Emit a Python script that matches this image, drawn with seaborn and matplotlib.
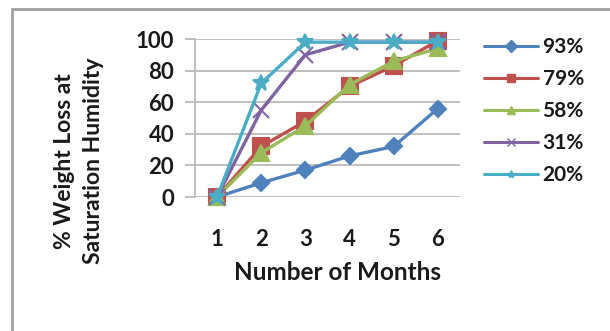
import matplotlib
matplotlib.use("Agg")
import matplotlib.pyplot as plt
from matplotlib.patches import Rectangle
from matplotlib.lines import Line2D
import pandas as pd
import seaborn as sns

months = [1, 2, 3, 4, 5, 6]
series_names = ["93%", "79%", "58%", "31%", "20%"]
loss_93 = [0, 9, 17, 26, 32, 56]
loss_79 = [0, 32, 48, 70, 83, 99]
loss_58 = [0, 28, 45, 71, 86, 94]
loss_31 = [0, 55, 90, 98, 98, 98]
loss_20 = [0, 72, 98, 98, 98, 98]
y_ticks = [0, 20, 40, 60, 80, 100]

colors = ["#4F81BD", "#C0504D", "#9BBB59", "#8064A2", "#4BACC6"]
markers = ["D", "s", "^", "x", "*"]
msizes = [8, 11, 11, 11, 12]

rows = []
for name, vals in zip(series_names, [loss_93, loss_79, loss_58, loss_31, loss_20]):
    for m, v in zip(months, vals):
        rows.append({"month": m, "loss": v, "rh": name})
df = pd.DataFrame(rows)

sns.set_theme(style="white")
plt.rcParams["font.family"] = ["Lato", "DejaVu Sans"]
plt.rcParams["font.weight"] = "bold"
TXT = "#1a1a1a"

fig = plt.figure(figsize=(6.1, 3.31), dpi=100)
ax = fig.add_axes([195 / 610, 1 - 197 / 331, (460 - 195) / 610, (197 - 39) / 331])

for name, c, mk, ms in zip(series_names, colors, markers, msizes):
    sub = df[df["rh"] == name]
    sns.lineplot(data=sub, x="month", y="loss", ax=ax, color=c, marker=mk,
                 markersize=ms, markeredgecolor=c, markeredgewidth=1.5,
                 linewidth=2.4, legend=False, clip_on=False, zorder=3)

ax.set_xlim(0.5, 6.5)
ax.set_ylim(0, 100)
ax.set_xticks(months)
ax.set_yticks(y_ticks)
ax.yaxis.grid(True, color="#BFBFBF", linewidth=1.4)
ax.xaxis.grid(False)
for side in ["top", "right", "bottom"]:
    ax.spines[side].set_visible(False)
ax.spines["left"].set_color("#BFBFBF")
ax.spines["left"].set_linewidth(1.4)
ax.tick_params(axis="y", length=7, width=1.4, color="#BFBFBF", left=True,
               pad=8, labelsize=16, labelcolor=TXT)
ax.tick_params(axis="x", length=0, pad=23, labelsize=16, labelcolor=TXT)
for lbl in ax.get_xticklabels() + ax.get_yticklabels():
    lbl.set_fontweight("bold")

ax.set_xlabel("Number of Months", fontsize=17.5, fontweight="bold", color=TXT,
              va="center")
ax.xaxis.set_label_coords((338 - 195) / 265, (197 - 273) / 158)
ax.set_ylabel("% Weight Loss at\nSaturation Humidity", fontsize=16.5, fontweight="bold",
              color=TXT, linespacing=1.5, va="center", ha="center")
ax.yaxis.set_label_coords((79 - 195) / 265, (197 - 161) / 158)

handles = [Line2D([], [], color=c, marker=mk, markersize=6, markeredgecolor=c,
                  linewidth=2.2) for c, mk in zip(colors, markers)]
leg = ax.legend(handles, series_names, loc="upper left", bbox_to_anchor=(1.06, 1.065),
                frameon=False, fontsize=15, handlelength=2.6, labelspacing=0.58,
                handletextpad=0.2, borderaxespad=0)
for t in leg.get_texts():
    t.set_fontweight("bold")
    t.set_color(TXT)

fig.patches.append(Rectangle((12 / 610, -0.1), 1.2, 1 - 9 / 331 + 0.1,
                             transform=fig.transFigure, fill=False,
                             edgecolor="#a0a0a0", linewidth=2))

fig.savefig("out.png", dpi=100)
